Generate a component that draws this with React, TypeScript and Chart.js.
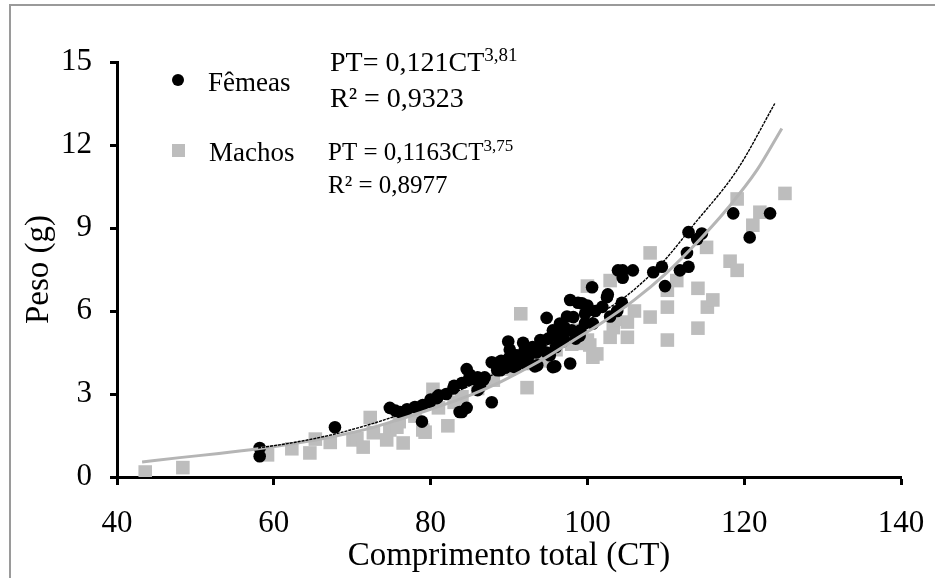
import { useEffect, useRef } from 'react';
import { Chart, registerables } from 'chart.js';
Chart.register(...registerables);

// Fêmeas: [CT, Peso]
const femeas: [number, number][] = [
  [58.2, 0.75], [58.2, 1.05], [67.8, 1.8], [74.8, 2.5], [76.1, 2.35], [76.7, 2.35], [78.0, 2.53], [78.3, 2.5],
  [78.9, 2.0], [79.9, 2.7], [80.8, 2.85], [80.9, 2.9], [82.9, 3.2], [83.7, 2.35], [84.0, 2.35], [84.6, 2.5],
  [84.6, 3.9], [84.8, 3.5], [85.9, 3.5], [86.0, 3.14], [86.3, 3.25], [86.7, 3.5], [86.9, 3.6], [87.8, 4.15],
  [87.8, 2.7], [88.2, 4.1], [88.5, 3.86], [88.9, 3.86], [89.9, 4.9], [90.1, 4.6], [90.5, 4.0], [90.8, 3.97],
  [91.8, 4.85], [92.3, 4.22], [92.4, 4.3], [93.3, 4.0], [93.6, 4.04], [94.0, 4.95], [94.8, 5.75], [94.8, 4.5],
  [95.2, 4.4], [95.6, 5.3], [95.6, 3.97], [95.9, 4.0], [96.5, 5.55], [96.5, 5.2], [97.1, 5.4], [97.4, 5.8],
  [97.8, 6.4], [97.8, 4.1], [98.2, 5.78], [98.8, 6.3], [99.1, 5.3], [99.3, 6.28], [99.7, 5.9], [99.7, 5.56],
  [100.6, 6.86], [100.7, 5.55], [101.9, 6.15], [102.5, 6.5], [102.6, 6.6], [102.9, 5.8], [103.8, 6.0], [103.9, 7.47],
  [104.4, 6.3], [104.5, 7.2], [104.5, 7.47], [105.8, 7.47], [108.4, 7.4], [109.5, 7.6], [109.9, 6.9], [111.8, 7.47],
  [112.7, 8.1], [112.9, 7.6], [112.9, 8.85], [114.0, 8.6], [114.6, 8.8], [118.6, 9.53], [120.7, 8.66], [123.3, 9.53],
  [89.0, 4.2], [90.0, 4.3], [91.0, 4.4], [92.0, 4.6], [93.0, 4.7], [93.5, 4.5], [94.0, 4.75], [95.0, 5.0],
  [96.0, 5.1], [96.0, 4.7], [97.0, 5.0], [98.0, 5.3], [99.0, 5.1], [91.0, 4.1], [92.0, 4.1], [89.5, 3.95],
  [86.0, 3.6], [85.0, 3.7], [84.0, 3.4], [83.0, 3.3], [82.0, 3.0], [81.0, 2.95], [80.0, 2.8], [79.0, 2.6],
  [77.0, 2.45], [75.5, 2.4], [100.0, 6.2], [101.0, 6.0], [96.8, 4.9], [98.5, 5.0],
];

// Machos: [CT, Peso]
const machos: [number, number][] = [
  [43.6, 0.18], [48.4, 0.34], [59.2, 0.8], [62.3, 1.02], [64.6, 0.87], [65.3, 1.37], [67.2, 1.25], [70.1, 1.34],
  [70.6, 1.4], [71.4, 1.08], [72.3, 2.15], [72.7, 1.6], [74.4, 1.34], [74.8, 1.7], [75.7, 1.8], [76.5, 1.23],
  [79.0, 1.7], [79.3, 1.62], [80.3, 3.17], [82.2, 1.85], [86.3, 3.4], [91.5, 5.9], [92.3, 3.23], [99.1, 5.3],
  [99.4, 4.83], [100.0, 6.9], [100.0, 4.95], [100.3, 4.77], [100.7, 4.33], [101.2, 4.45], [102.9, 7.1], [102.9, 5.05],
  [103.3, 5.4], [105.1, 5.6], [105.1, 5.05], [108.0, 8.1], [108.0, 5.78], [110.2, 6.75], [110.2, 6.14], [110.2, 4.95],
  [111.4, 7.1], [114.1, 6.82], [114.1, 5.38], [115.2, 8.3], [115.3, 6.14], [116.0, 6.4], [118.2, 7.8], [119.1, 7.47],
  [119.1, 10.05], [121.1, 9.1], [122.0, 9.57], [125.2, 10.25],
  [84.0, 2.9], [86.0, 3.2], [88.0, 3.5], [90.0, 3.9], [92.0, 4.1], [94.0, 4.4], [96.0, 4.6], [98.0, 4.8],
  [97.0, 5.1], [83.0, 2.7], [78.0, 2.2], [76.0, 2.0], [81.0, 2.5], [95.0, 4.2], [103.5, 5.7], [106.0, 6.0],
];

// Fitted curves: [CT, Peso]
const femeasCurve: [number, number][] = [
  [58, 1.05], [62, 1.22], [67, 1.5], [72, 1.88], [76, 2.25], [80, 2.7], [85, 3.3], [90, 4.0], [95, 4.8],
  [100, 5.65], [105, 6.55], [109.6, 7.76], [113.5, 9.1], [119.1, 11.1], [123.9, 13.5],
];
const machosCurve: [number, number][] = [
  [43.2, 0.54], [48, 0.7], [53, 0.85], [58, 1.02], [63, 1.23], [67, 1.43], [72, 1.74], [76, 2.08], [80, 2.45],
  [85, 2.95], [89, 3.45], [94, 4.2], [98, 4.9], [102, 5.6], [106, 6.4], [110, 7.35], [114.4, 8.6], [118, 9.75],
  [121.6, 11.08], [124.8, 12.6],
];

const xMin = 40, xMax = 140, xStep = 20;
const yMin = 0, yMax = 15, yStep = 3;

const legendLabels = ['Fêmeas', 'Machos'];
const eqFemeas = { main: 'PT= 0,121CT', sup: '3,81', r2: 'R² = 0,9323' };
const eqMachos = { main: 'PT = 0,1163CT', sup: '3,75', r2: 'R² = 0,8977' };

const SERIF = '"Liberation Serif", "Times New Roman", serif';
const GRAY = '#bdbdbd';

const toPts = (a: [number, number][]) => a.map(([x, y]) => ({ x, y }));

const overlay = {
  id: 'overlay',
  beforeDraw(chart: any) {
    const ctx = chart.ctx;
    ctx.save();
    ctx.strokeStyle = '#9a9a9a';
    ctx.lineWidth = 2;
    ctx.beginPath();
    ctx.moveTo(10, 600);
    ctx.lineTo(10, 5);
    ctx.lineTo(940, 5);
    ctx.stroke();
    ctx.restore();
  },
  afterDraw(chart: any) {
    const ctx = chart.ctx;
    ctx.save();
    ctx.fillStyle = '#000';
    ctx.textBaseline = 'alphabetic';
    ctx.beginPath();
    ctx.arc(178, 80, 6, 0, Math.PI * 2);
    ctx.fill();
    ctx.fillStyle = GRAY;
    ctx.fillRect(172, 144, 13, 13);
    ctx.fillStyle = '#000';
    ctx.font = `27px ${SERIF}`;
    ctx.fillText(legendLabels[0], 208, 91);
    ctx.fillText(legendLabels[1], 209, 161);

    const drawEq = (eq: any, x: number, y1: number, y2: number, size: number) => {
      ctx.font = `${size}px ${SERIF}`;
      ctx.fillText(eq.main, x, y1);
      const w = ctx.measureText(eq.main).width;
      ctx.font = `${Math.round(size * 0.68)}px ${SERIF}`;
      ctx.fillText(eq.sup, x + w, y1 - size * 0.36);
      ctx.font = `${size}px ${SERIF}`;
      ctx.fillText(eq.r2, x, y2);
    };
    drawEq(eqFemeas, 330, 71, 107, 28);
    drawEq(eqMachos, 328, 160, 193, 25);
    ctx.restore();
  },
};

export default function App() {
  const ref = useRef<HTMLCanvasElement | null>(null);
  useEffect(() => {
    if (!ref.current) return;
    const tickFont = { family: SERIF, size: 31 };
    const chart = new Chart(ref.current, {
      type: 'scatter',
      data: {
        datasets: [
          {
            type: 'line',
            label: 'curva Fêmeas',
            data: toPts(femeasCurve),
            borderColor: '#000',
            borderWidth: 1.4,
            borderDash: [3, 1],
            pointRadius: 0,
            fill: false,
            tension: 0.4,
            cubicInterpolationMode: 'monotone',
          } as any,
          {
            type: 'line',
            label: 'curva Machos',
            data: toPts(machosCurve),
            borderColor: '#b5b5b5',
            borderWidth: 3,
            pointRadius: 0,
            fill: false,
            tension: 0.4,
            cubicInterpolationMode: 'monotone',
          } as any,
          {
            label: legendLabels[0],
            data: toPts(femeas),
            backgroundColor: '#000',
            borderColor: '#000',
            borderWidth: 0,
            pointStyle: 'circle',
            pointRadius: 6.3,
          },
          {
            label: legendLabels[1],
            data: toPts(machos),
            backgroundColor: GRAY,
            borderColor: GRAY,
            borderWidth: 0,
            pointStyle: 'rect',
            pointRadius: 9.6,
          },
        ],
      },
      options: {
        animation: false,
        responsive: true,
        maintainAspectRatio: false,
        layout: { padding: { top: 62, right: 34, left: 0, bottom: 0 } },
        plugins: { legend: { display: false }, tooltip: { enabled: false }, title: { display: false } },
        scales: {
          x: {
            type: 'linear',
            min: xMin,
            max: xMax,
            ticks: { stepSize: xStep, font: tickFont, color: '#000', padding: 20 },
            grid: { drawOnChartArea: false, drawTicks: true, tickLength: 8, tickWidth: 3, tickColor: '#000' },
            border: { display: true, color: '#000', width: 3 },
            title: {
              display: true,
              text: 'Comprimento total (CT)',
              color: '#000',
              font: { family: SERIF, size: 33 },
              padding: { top: 0, bottom: 2 },
            },
            afterFit: (s: any) => { s.height = 101; s.paddingLeft = 0; s.paddingRight = 0; },
          },
          y: {
            min: yMin,
            max: yMax,
            ticks: { stepSize: yStep, font: tickFont, color: '#000', padding: 18 },
            grid: { drawOnChartArea: false, drawTicks: true, tickLength: 7, tickWidth: 3, tickColor: '#000' },
            border: { display: true, color: '#000', width: 3 },
            title: {
              display: true,
              text: 'Peso (g)',
              color: '#000',
              font: { family: SERIF, size: 33 },
              padding: { top: 20, bottom: 0 },
            },
            afterFit: (s: any) => { s.width = 117; s.paddingTop = 0; s.paddingBottom = 0; },
          },
        },
      },
      plugins: [overlay],
    });
    return () => chart.destroy();
  }, []);
  return (
    <div style={{ position: 'fixed', left: 0, top: 0, width: 935, height: 578, background: '#fff' }}>
      <canvas ref={ref} />
    </div>
  );
}
